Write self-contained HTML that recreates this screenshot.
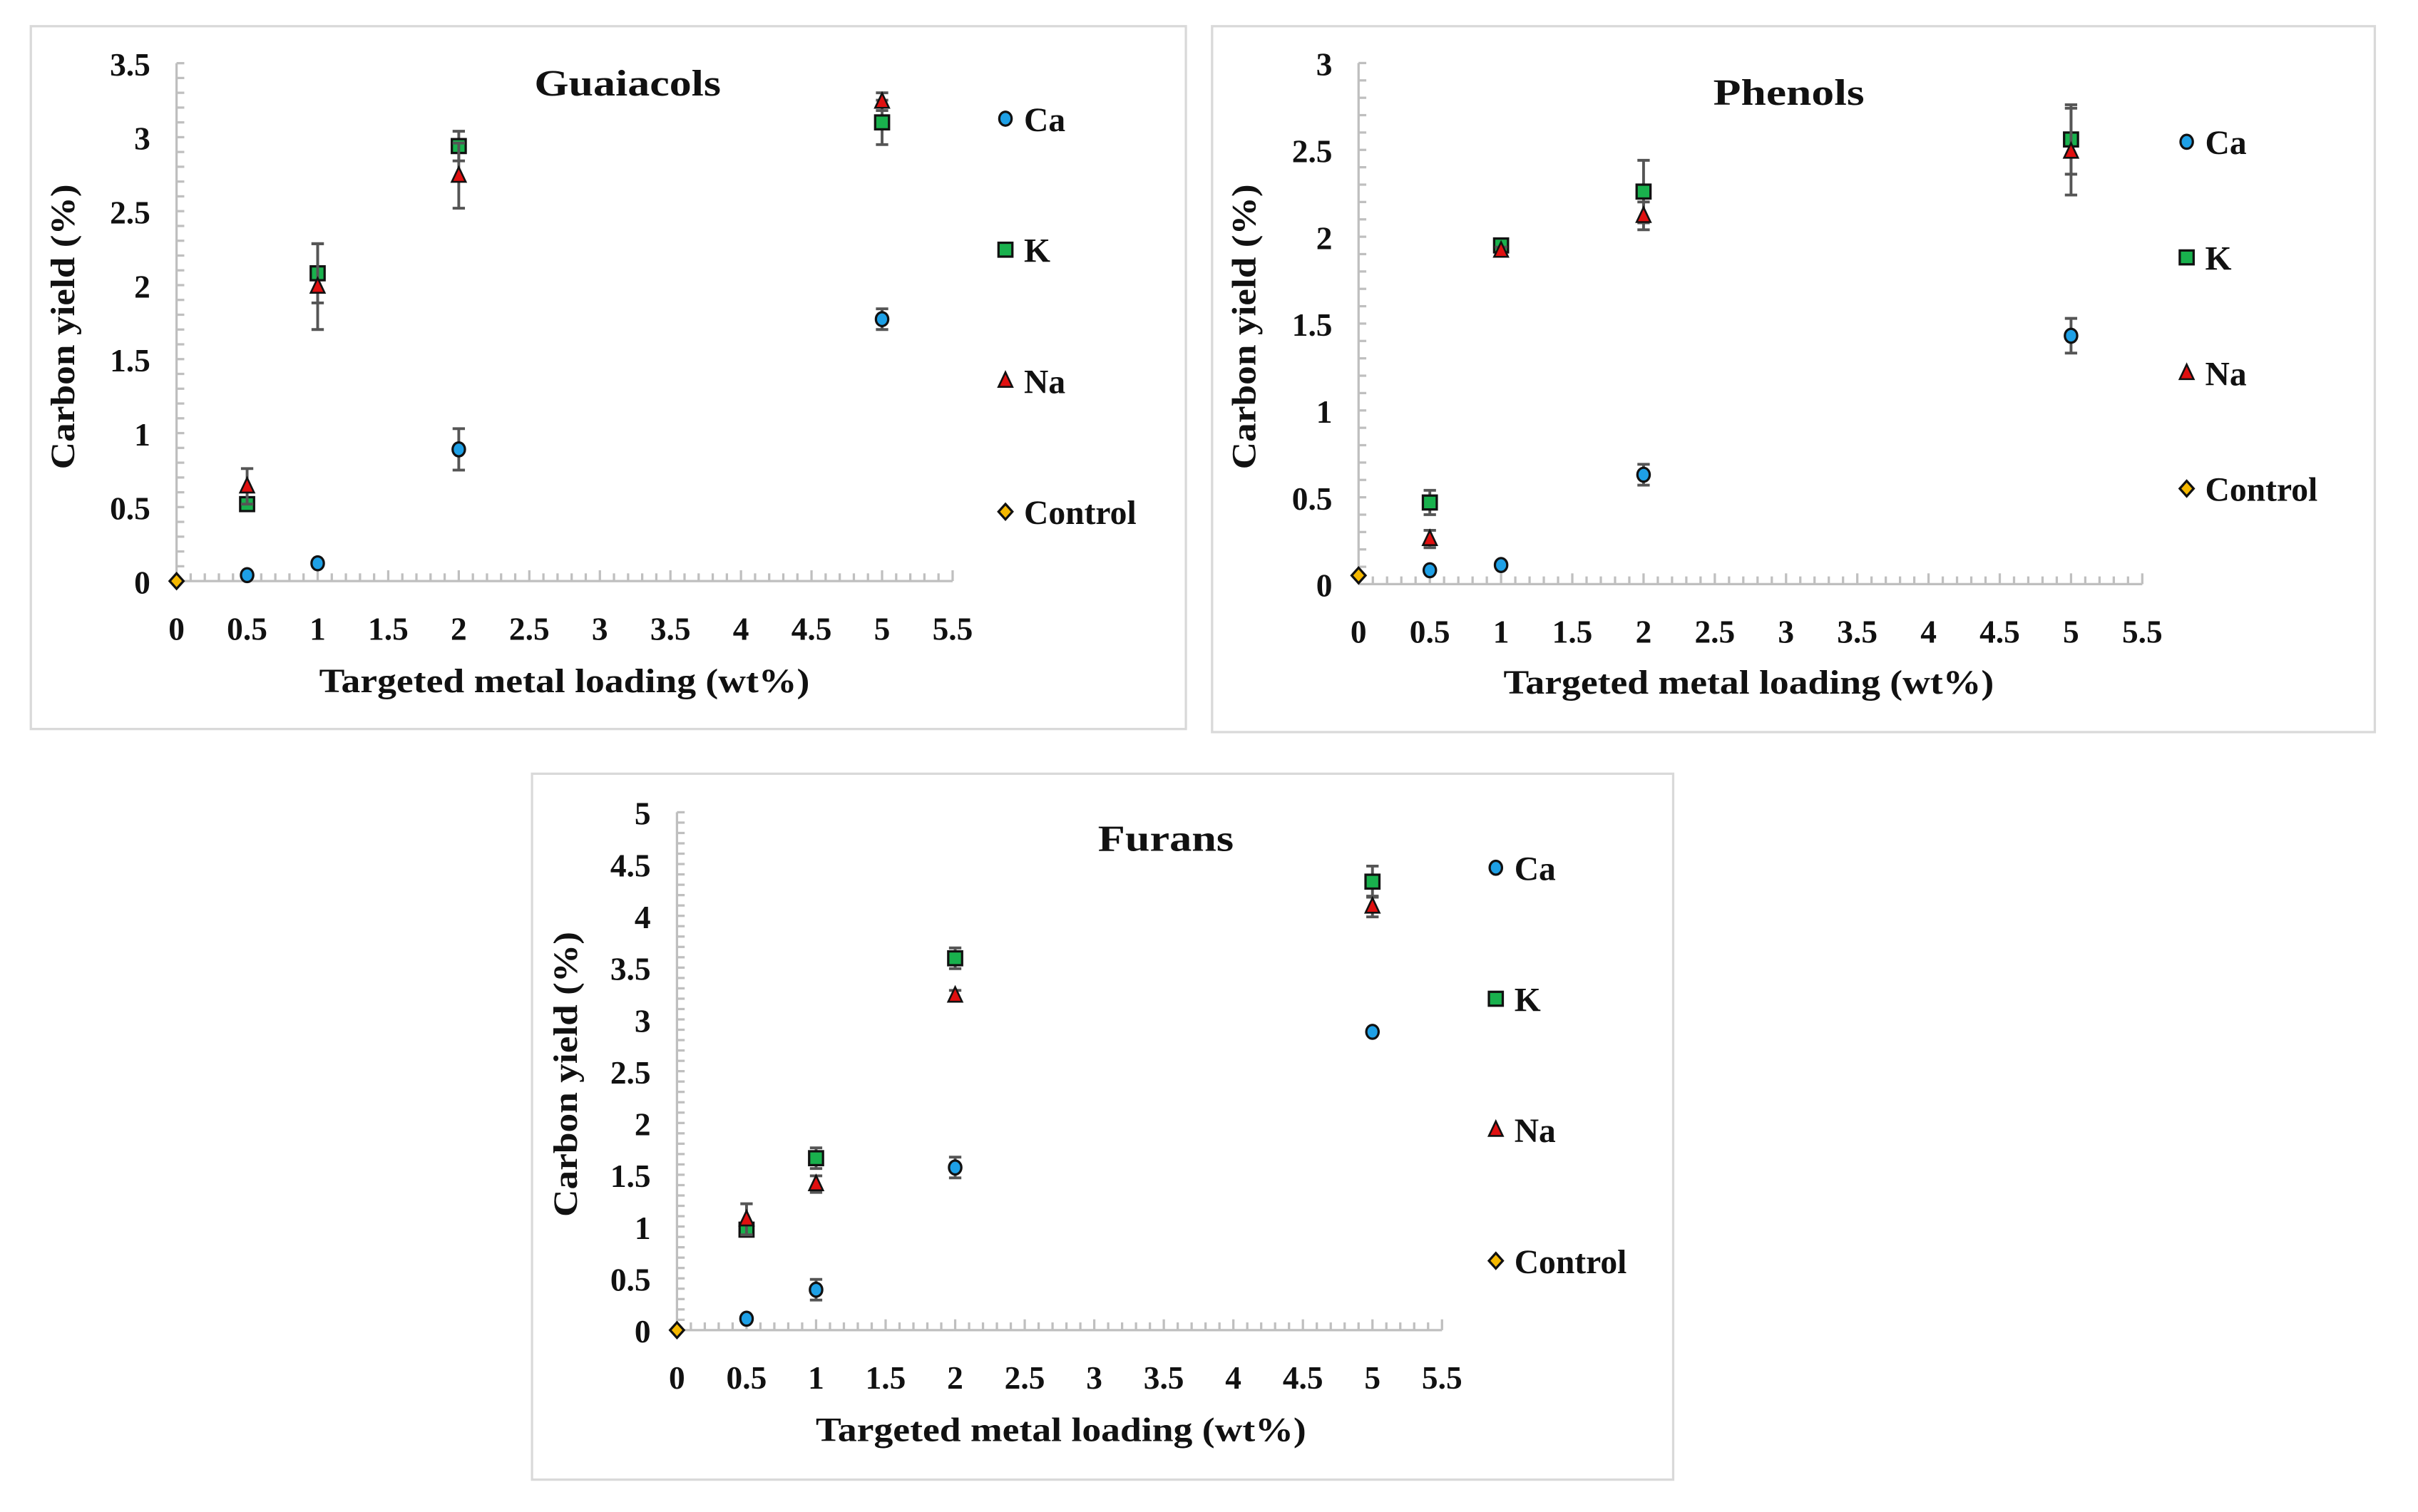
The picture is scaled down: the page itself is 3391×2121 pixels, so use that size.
<!DOCTYPE html>
<html><head><meta charset="utf-8">
<style>html,body{margin:0;padding:0;background:#fff;}svg{display:block;}
text{font-family:"Liberation Serif",serif;font-weight:bold;fill:#111;}</style></head>
<body>
<svg id="fig" width="3391" height="2121" viewBox="0 0 1568 981" preserveAspectRatio="none" xmlns="http://www.w3.org/2000/svg"></svg>
<script>
const xCats=[0,0.5,1,2,5];
const gCa=[null,0.04,0.12,0.89,1.77], gCaE=[0,0,0,0.14,0.07];
const gK=[null,0.52,2.08,2.94,3.10], gKE=[0,0.04,0.2,0.1,0.15];
const gNa=[null,0.64,1.99,2.74,3.24], gNaE=[0,0.12,0.29,0.22,0.06];
const gCtl=[0,null,null,null,null];
const pCa=[null,0.08,0.11,0.63,1.43], pCaE=[0,0,0,0.06,0.1];
const pK=[null,0.47,1.95,2.26,2.56], pKE=[0,0.07,0.03,0.18,0.2];
const pNa=[null,0.26,1.92,2.12,2.49], pNaE=[0,0.05,0.02,0.08,0.25];
const pCtl=[0.05,null,null,null,null];
const fCa=[null,0.11,0.39,1.57,2.88], fCaE=[0,0,0.1,0.1,0];
const fK=[null,0.97,1.66,3.59,4.33], fKE=[0,0.05,0.1,0.1,0.15];
const fNa=[null,1.07,1.41,3.23,4.09], fNaE=[0,0.15,0.08,0.05,0.1];
const fCtl=[0,null,null,null,null];
const xTicks=[0,0.5,1,1.5,2,2.5,3,3.5,4,4.5,5,5.5];
const gYTicks=[0,0.5,1,1.5,2,2.5,3,3.5];
const pYTicks=[0,0.5,1,1.5,2,2.5,3];
const fYTicks=[0,0.5,1,1.5,2,2.5,3,3.5,4,4.5,5];
const legendNames=["Ca","K","Na","Control"];

const NS="http://www.w3.org/2000/svg";
const svg=document.getElementById('fig');
function mk(tag,attrs,parent){const e=document.createElementNS(NS,tag);for(const k in attrs)e.setAttribute(k,attrs[k]);(parent||svg).appendChild(e);return e;}

function marker(g,type,cx,cy){
  let e;
  if(type==="Ca"){e=mk('ellipse',{cx:cx,cy:cy,rx:4,ry:4.5,fill:'#1ea0e6',stroke:'#111','stroke-width':1.5},g);}
  else if(type==="K"){e=mk('rect',{x:cx-4.5,y:cy-4.5,width:9,height:9,fill:'#19b14d',stroke:'#111','stroke-width':1.5},g);}
  else if(type==="Na"){e=mk('path',{d:`M${cx},${cy-5.5} L${cx+4.5},${cy+4} L${cx-4.5},${cy+4} Z`,fill:'#e01010',stroke:'#111','stroke-width':1.2},g);}
  else {e=mk('path',{d:`M${cx},${cy-5} L${cx+4.5},${cy} L${cx},${cy+5} L${cx-4.5},${cy} Z`,fill:'#f5b800',stroke:'#111','stroke-width':1.5},g);}
  return e;
}

function panel(cfg){
  const g=mk('g',{});
  
  
  const box=mk('rect',{x:cfg.box[0],y:cfg.box[1],width:cfg.box[2],height:cfg.box[3],fill:'#fff',stroke:'#d9d9d9','stroke-width':1.5},g);
  
  
  const X=v=>cfg.x0+v*cfg.ux, Y=v=>cfg.y0-v*cfg.uy;
  const ymax=cfg.yTicks[cfg.yTicks.length-1];
  const ax=mk('g',{stroke:'#bfbfbf','stroke-width':1.5},g);
  
  
  mk('line',{x1:X(0),y1:cfg.y0,x2:X(5.5),y2:cfg.y0},ax);
  mk('line',{x1:X(0),y1:cfg.y0,x2:X(0),y2:Y(ymax)},ax);
  for(let i=1;i<=55;i++){const len=(i%5===0)?7:5;mk('line',{x1:X(i/10),y1:cfg.y0,x2:X(i/10),y2:cfg.y0-len},ax);}
  const nMinor=Math.round(ymax/cfg.yMinor);
  for(let i=1;i<=nMinor;i++){mk('line',{x1:X(0),y1:Y(i*cfg.yMinor),x2:X(0)+5,y2:Y(i*cfg.yMinor)},ax);}
  xTicks.forEach(t=>{const e=mk('text',{x:X(t),y:cfg.y0+38,'font-size':21,'text-anchor':'middle'},g);e.textContent=String(t);
    });
  cfg.yTicks.forEach(t=>{const e=mk('text',{x:X(0)-17,y:Y(t)+8,'font-size':21,'text-anchor':'end'},g);e.textContent=String(t);
    });
  const ti=mk('text',{x:cfg.title[1],y:cfg.title[2],'font-size':24,'text-anchor':'middle',textLength:cfg.title[3],lengthAdjust:'spacingAndGlyphs'},g);
  ti.textContent=cfg.title[0];
  const xl=mk('text',{x:cfg.xl[0],y:cfg.xl[1],'font-size':22,'text-anchor':'middle',textLength:318,lengthAdjust:'spacingAndGlyphs'},g);
  xl.textContent="Targeted metal loading (wt%)";
  const yl=mk('text',{x:0,y:0,'font-size':22,'text-anchor':'middle',textLength:185,lengthAdjust:'spacingAndGlyphs',transform:`translate(${cfg.yl[0]},${cfg.yl[1]}) rotate(-90)`},g);
  yl.textContent="Carbon yield (%)";
  cfg.series.forEach(s=>{
    const sg=mk('g',{},g);
    
    
    s.vals.forEach((v,i)=>{
      if(v===null)return;
      const cx=X(xCats[i]),cy=Y(v),e=s.err?s.err[i]:0;
      if(e>0){
        const eb=mk('path',{d:`M${cx},${Y(v+e)} V${Y(v-e)} M${cx-4},${Y(v+e)} H${cx+4} M${cx-4},${Y(v-e)} H${cx+4}`,stroke:'#555','stroke-width':1.8,fill:'none'},sg);
        
      }
      const m=marker(sg,s.name,cx,cy);
      
      
    });
  });
  const lg=mk('g',{},g);
  
  
  legendNames.forEach((n,i)=>{
    const y=cfg.leg[1]+i*cfg.leg[2];
    const m=marker(lg,n,cfg.leg[0],y);
    
    
    const t=mk('text',{x:cfg.leg[0]+12,y:y+8,'font-size':22},lg);t.textContent=n;
    
    
  });
}
panel({id:'guaiacols',box:[20,17,749,456],x0:114.5,ux:91.5,y0:377,uy:96,yTicks:gYTicks,yMinor:0.1,
  title:["Guaiacols",407,62,121],xl:[366,449],yl:[48,212],leg:[652,77,85],
  series:[{name:"Ca",vals:gCa,err:gCaE},{name:"K",vals:gK,err:gKE},{name:"Na",vals:gNa,err:gNaE},{name:"Control",vals:gCtl}]});
panel({id:'phenols',box:[786,17,754,458],x0:881,ux:92.4,y0:379,uy:112.7,yTicks:pYTicks,yMinor:0.1,
  title:["Phenols",1160,68,98],xl:[1134,450],yl:[814,212],leg:[1418,92,75],
  series:[{name:"Ca",vals:pCa,err:pCaE},{name:"K",vals:pK,err:pKE},{name:"Na",vals:pNa,err:pNaE},{name:"Control",vals:pCtl}]});
panel({id:'furans',box:[345,502,740,458],x0:439,ux:90.2,y0:863,uy:67.2,yTicks:fYTicks,yMinor:0.1,
  title:["Furans",756,552,88],xl:[688,935],yl:[374,697],leg:[970,563,85],
  series:[{name:"Ca",vals:fCa,err:fCaE},{name:"K",vals:fK,err:fKE},{name:"Na",vals:fNa,err:fNaE},{name:"Control",vals:fCtl}]});
</script>
</body></html>
